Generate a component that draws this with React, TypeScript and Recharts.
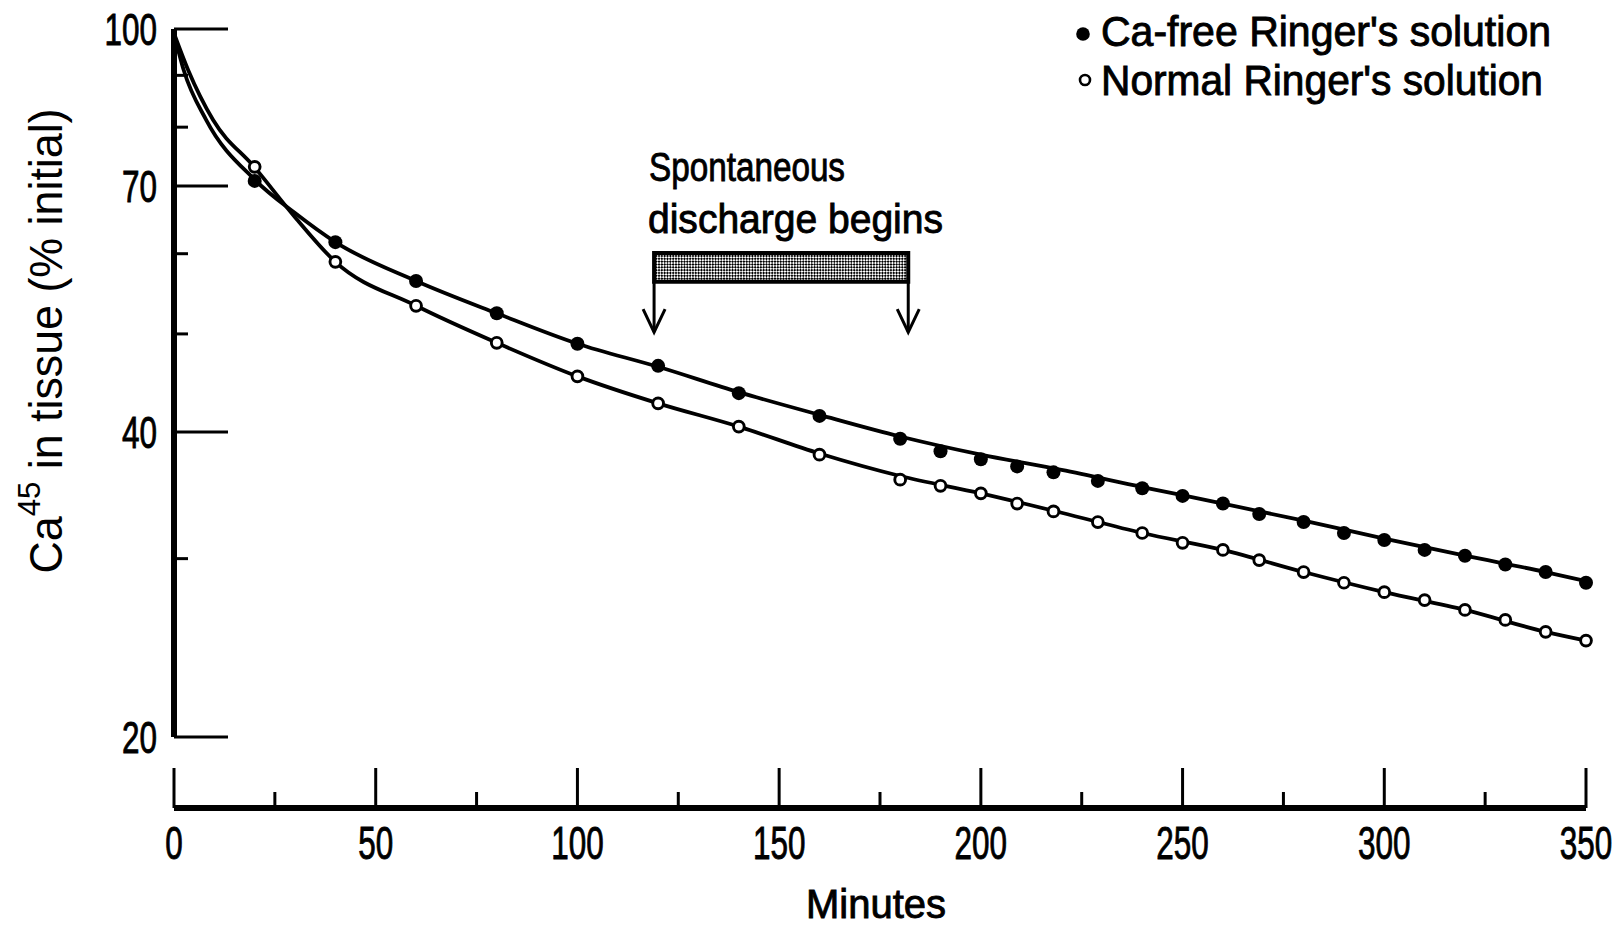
import React from 'react'
import {
  ComposedChart,
  Line,
  Scatter,
  XAxis,
  YAxis,
  ReferenceArea,
  ReferenceLine,
  Legend,
} from 'recharts'

// ── Data ──────────────────────────────────────────────────────────────────────

// Measured Ca45 left in tissue (% of initial) against minutes of washout
const caFreeTimes  = [20, 40, 60, 80, 100, 120, 140, 160, 180, 190, 200, 209, 218, 229, 240, 250, 260, 269, 280, 290, 300, 310, 320, 330, 340, 350]
const caFreeValues = [70.8, 61.6, 56.4, 52.4, 48.9, 46.5, 43.7, 41.5, 39.4, 38.3, 37.6, 37.0, 36.5, 35.8, 35.2, 34.6, 34.0, 33.2, 32.6, 31.8, 31.3, 30.6, 30.2, 29.6, 29.1, 28.4]

const normalTimes  = [20, 40, 60, 80, 100, 120, 140, 160, 180, 190, 200, 209, 218, 229, 240, 250, 260, 269, 280, 290, 300, 310, 320, 330, 340, 350]
const normalValues = [73.1, 58.9, 53.3, 49.0, 45.4, 42.7, 40.5, 38.0, 35.9, 35.4, 34.8, 34.0, 33.4, 32.6, 31.8, 31.1, 30.6, 29.9, 29.1, 28.4, 27.8, 27.3, 26.7, 26.1, 25.4, 24.9]

// Hand-fitted curves through each set
const caFreeCurveTimes  = [0, 2.4, 8, 20, 30, 40, 60, 80, 100, 120, 140, 160, 180, 200, 220, 240, 260, 280, 300, 320, 340, 350]
const caFreeCurveValues = [99, 91.1, 81.3, 71.0, 65.8, 61.6, 56.4, 52.4, 48.9, 46.4, 43.8, 41.6, 39.6, 38.0, 36.7, 35.3, 34.0, 32.7, 31.4, 30.2, 29.1, 28.5]

const normalCurveTimes  = [0, 3.5, 9.7, 20, 30, 40, 60, 80, 100, 120, 140, 160, 180, 200, 220, 240, 260, 280, 300, 320, 340, 350]
const normalCurveValues = [99, 91.1, 81.3, 73.0, 65.2, 58.9, 53.3, 49.0, 45.4, 42.7, 40.5, 38.1, 36.2, 34.8, 33.3, 31.8, 30.6, 29.1, 27.8, 26.7, 25.4, 24.9]

// Axis ticks
const xMajorTicks = [0, 50, 100, 150, 200, 250, 300, 350]
const xMinorTicks = [25, 75, 125, 175, 225, 275, 325]
const yMajorTicks = [20, 40, 70, 100]
const yMinorTicks = [30, 50, 60, 80, 90]

// Onset of spontaneous discharge (minutes) and where the marker sits on the y scale
const dischargeStart = 119
const dischargeEnd   = 182
const barLow   = 56.3
const barHigh  = 60.1
const arrowTip = 50.2

const legendLabels = ["Ca-free Ringer's solution", "Normal Ringer's solution"]

// ── Helpers ───────────────────────────────────────────────────────────────────

const zip = (ts: number[], vs: number[]) => ts.map((t, i) => ({ t, v: vs[i] }))

const caFreePoints = zip(caFreeTimes, caFreeValues)
const normalPoints = zip(normalTimes, normalValues)
const caFreeCurve  = zip(caFreeCurveTimes, caFreeCurveValues)
const normalCurve  = zip(normalCurveTimes, normalCurveValues)

const W = 1621
const H = 929
const X_AXIS_DROP = 71       // time axis sits below the plot
const PLOT_BOTTOM = 737
const X_BASE = PLOT_BOTTOM + X_AXIS_DROP

const FONT = "'Liberation Sans Narrow', 'Liberation Sans', Arial, sans-serif"
const INK  = '#000'

// narrow face, thickened a little with an outline
const inkText = { fontFamily: FONT, fill: INK, stroke: INK, strokeWidth: 0.9 }

// ── Ticks ─────────────────────────────────────────────────────────────────────

function XTick(props: any) {
  const { x, payload } = props
  const major = xMajorTicks.includes(payload.value)
  const label = String(payload.value)
  return (
    <g>
      <line x1={x} x2={x} y1={X_BASE} y2={X_BASE - (major ? 40 : 16)} stroke={INK} strokeWidth={3} />
      {major && (
        <text
          {...inkText}
          x={x}
          y={X_BASE + 51}
          textAnchor="middle"
          fontSize={46}
          textLength={label.length * 17.5}
          lengthAdjust="spacingAndGlyphs"
        >
          {label}
        </text>
      )}
    </g>
  )
}

function YTick(props: any) {
  const { x, y, payload } = props
  const major = yMajorTicks.includes(payload.value)
  const label = String(payload.value)
  return (
    <g>
      <line x1={x} x2={x + (major ? 54 : 14)} y1={y} y2={y} stroke={INK} strokeWidth={3} />
      {major && (
        <text
          {...inkText}
          x={x - 17}
          y={y + 16}
          textAnchor="end"
          fontSize={45}
          textLength={label.length * 17.5}
          lengthAdjust="spacingAndGlyphs"
        >
          {label}
        </text>
      )}
    </g>
  )
}

// ── Labels ────────────────────────────────────────────────────────────────────

function YTitle() {
  return (
    <text
      transform="rotate(-90 62 341)"
      x={62}
      y={341}
      textAnchor="middle"
      fontFamily="'Liberation Sans', Arial, sans-serif"
      fontSize={46}
      fill={INK}
      textLength={465}
      lengthAdjust="spacingAndGlyphs"
    >
      Ca
      <tspan fontSize={32} dy={-22}>45</tspan>
      <tspan dy={22}> in tissue (% initial)</tspan>
    </text>
  )
}

function XTitle() {
  return (
    <text
      {...inkText}
      x={876}
      y={918}
      textAnchor="middle"
      fontSize={41}
      textLength={140}
      lengthAdjust="spacingAndGlyphs"
    >
      Minutes
    </text>
  )
}

function DischargeLabel() {
  return (
    <g>
      <text {...inkText} fontSize={41} x={649} y={181} textLength={196} lengthAdjust="spacingAndGlyphs">
        Spontaneous
      </text>
      <text {...inkText} fontSize={41} x={648} y={233} textLength={295} lengthAdjust="spacingAndGlyphs">
        discharge begins
      </text>
    </g>
  )
}

// Downward arrow hanging from the discharge bar
function Arrow(props: any) {
  const { x1, y1, x2, y2 } = props
  return (
    <g stroke={INK} strokeWidth={3} fill="none">
      <line x1={x1} y1={y1} x2={x2} y2={y2} />
      <path d={`M ${x2 - 11} ${y2 - 23} L ${x2} ${y2} L ${x2 + 11} ${y2 - 23}`} />
    </g>
  )
}

function LegendBox() {
  return (
    <svg width={561} height={110}>
      <circle cx={23} cy={34} r={6.8} fill={INK} />
      <text {...inkText} x={41} y={45.5} fontSize={42} textLength={450} lengthAdjust="spacingAndGlyphs">
        {legendLabels[0]}
      </text>
      <circle cx={25} cy={80} r={5} fill="#fff" stroke={INK} strokeWidth={2.6} />
      <text {...inkText} x={41} y={95} fontSize={42} textLength={442} lengthAdjust="spacingAndGlyphs">
        {legendLabels[1]}
      </text>
    </svg>
  )
}

const FilledDot = (p: any) => <circle cx={p.cx} cy={p.cy} r={7} fill={INK} />
const OpenDot = (p: any) => (
  <circle cx={p.cx} cy={p.cy} r={5.4} fill="#fff" stroke={INK} strokeWidth={2.9} />
)

// ── Chart ─────────────────────────────────────────────────────────────────────

export default function App() {
  return (
    <div style={{ position: 'absolute', left: 0, top: 0, width: W, height: H, background: '#fff' }}>
      <svg width={0} height={0} style={{ position: 'absolute' }}>
        <defs>
          <pattern id="stipple" width={4} height={4} patternUnits="userSpaceOnUse" patternTransform="rotate(45)">
            <rect width={4} height={4} fill="#fff" />
            <rect width={2} height={2} fill={INK} />
            <rect x={2} y={2} width={2} height={2} fill={INK} />
          </pattern>
        </defs>
      </svg>

      <ComposedChart width={W} height={H} margin={{ top: 29, right: 35, bottom: 0, left: 54 }}>
        <XAxis
          type="number"
          dataKey="t"
          domain={[0, 350]}
          ticks={[...xMajorTicks, ...xMinorTicks].sort((a, b) => a - b)}
          interval={0}
          height={192}
          tickSize={0}
          tickMargin={0}
          tickLine={false}
          tick={<XTick />}
          axisLine={{ stroke: INK, strokeWidth: 6, transform: `translate(0 ${X_AXIS_DROP})` }}
          label={<XTitle />}
        />
        <YAxis
          type="number"
          dataKey="v"
          scale="log"
          domain={[20, 100]}
          allowDataOverflow
          ticks={[...yMajorTicks, ...yMinorTicks].sort((a, b) => a - b)}
          interval={0}
          width={120}
          tickSize={0}
          tickMargin={0}
          tickLine={false}
          tick={<YTick />}
          axisLine={{ stroke: INK, strokeWidth: 6 }}
          label={<YTitle />}
        />

        <Legend
          layout="horizontal"
          verticalAlign="middle"
          align="center"
          content={<LegendBox />}
          wrapperStyle={{ left: 1060, top: 0, width: 561, height: 110 }}
        />

        <ReferenceArea
          x1={dischargeStart}
          x2={dischargeEnd}
          y1={barLow}
          y2={barHigh}
          fill="url(#stipple)"
          fillOpacity={1}
          stroke={INK}
          strokeWidth={4}
          label={<DischargeLabel />}
        />
        <ReferenceLine
          segment={[{ x: dischargeStart, y: barLow }, { x: dischargeStart, y: arrowTip }]}
          shape={<Arrow />}
        />
        <ReferenceLine
          segment={[{ x: dischargeEnd, y: barLow }, { x: dischargeEnd, y: arrowTip }]}
          shape={<Arrow />}
        />

        <Line
          data={caFreeCurve}
          dataKey="v"
          type="monotone"
          stroke={INK}
          strokeWidth={3.8}
          dot={false}
          activeDot={false}
          legendType="none"
          isAnimationActive={false}
        />
        <Line
          data={normalCurve}
          dataKey="v"
          type="monotone"
          stroke={INK}
          strokeWidth={3.8}
          dot={false}
          activeDot={false}
          legendType="none"
          isAnimationActive={false}
        />
        <Scatter
          data={caFreePoints}
          dataKey="v"
          shape={FilledDot}
          legendType="none"
          isAnimationActive={false}
        />
        <Scatter
          data={normalPoints}
          dataKey="v"
          shape={OpenDot}
          legendType="none"
          isAnimationActive={false}
        />
      </ComposedChart>
    </div>
  )
}
